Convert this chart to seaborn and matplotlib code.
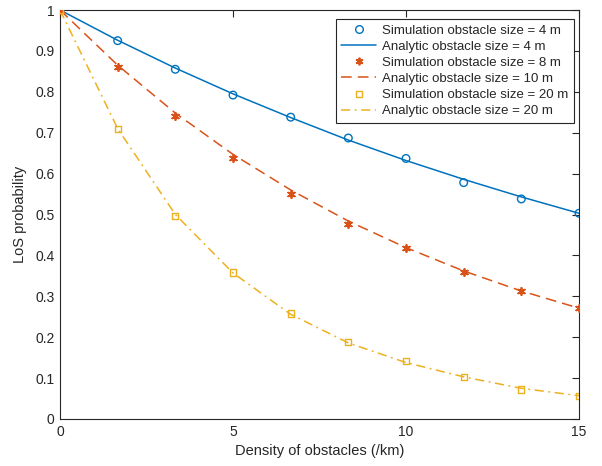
import numpy as np
import pandas as pd
import matplotlib
matplotlib.use("Agg")
import matplotlib.pyplot as plt
from matplotlib.lines import Line2D
import seaborn as sns

# density of obstacles (/km)
density = [0, 1.667, 3.333, 5, 6.667, 8.333, 10, 11.667, 13.333, 15]

sim_4m = [1, 0.925, 0.855, 0.792, 0.738, 0.687, 0.637, 0.578, 0.538, 0.503]
ana_4m = [1, 0.926, 0.858, 0.795, 0.737, 0.682, 0.632, 0.586, 0.543, 0.503]
sim_8m = [1, 0.860, 0.741, 0.637, 0.550, 0.477, 0.417, 0.359, 0.312, 0.272]
ana_10m = [1, 0.865, 0.748, 0.647, 0.560, 0.484, 0.419, 0.362, 0.313, 0.271]
sim_20m = [1, 0.709, 0.497, 0.358, 0.258, 0.189, 0.141, 0.103, 0.072, 0.056]
ana_20m = [1, 0.710, 0.500, 0.357, 0.256, 0.186, 0.138, 0.103, 0.075, 0.057]

labels = [
    "Simulation obstacle size = 4 m",
    "Analytic obstacle size = 4 m",
    "Simulation obstacle size = 8 m",
    "Analytic obstacle size = 10 m",
    "Simulation obstacle size = 20 m",
    "Analytic obstacle size = 20 m",
]

blue = "#0072BD"
red = "#D95319"
yellow = "#EDB120"
dark = "#262626"

sns.set_style("white")
plt.rcParams["font.family"] = ["Liberation Sans", "DejaVu Sans"]
plt.rcParams["font.size"] = 9.5
plt.rcParams["text.color"] = dark
plt.rcParams["axes.labelcolor"] = dark
plt.rcParams["xtick.color"] = dark
plt.rcParams["ytick.color"] = dark

fig = plt.figure(figsize=(6.02, 4.66), dpi=100)
ax = fig.add_axes([60 / 602, 1 - 419 / 466, 519 / 602, 409 / 466])

df = pd.DataFrame({
    "density": density,
    "sim_4m": sim_4m, "ana_4m": ana_4m,
    "sim_8m": sim_8m, "ana_10m": ana_10m,
    "sim_20m": sim_20m, "ana_20m": ana_20m,
})

# blue
sns.lineplot(data=df, x="density", y="ana_4m", ax=ax, color=blue, lw=1.1, zorder=2)
sns.scatterplot(data=df, x="density", y="sim_4m", ax=ax, marker="o", s=30,
                facecolor="none", edgecolor=blue, linewidth=1.0, zorder=3)
# red
sns.lineplot(data=df, x="density", y="ana_10m", ax=ax, color=red, lw=1.1, zorder=2)
ax.lines[-1].set_dashes((7, 4))
sns.scatterplot(data=df, x="density", y="sim_8m", ax=ax, marker=(6, 2, 0), s=28,
                color=red, edgecolor=red, linewidth=1.3, zorder=3)
# yellow
sns.lineplot(data=df, x="density", y="ana_20m", ax=ax, color=yellow, lw=1.1, zorder=2)
ax.lines[-1].set_dashes((6, 3, 1.2, 3))
sns.scatterplot(data=df, x="density", y="sim_20m", ax=ax, marker="s", s=20,
                facecolor="none", edgecolor=yellow, linewidth=1.0, zorder=3)

# legend handles in the original order
handles = [
    Line2D([], [], ls="none", marker="o", mfc="none", mec=blue, ms=5.5, mew=1.0),
    Line2D([], [], color=blue, lw=1.1),
    Line2D([], [], ls="none", marker=(6, 2, 0), color=red, mec=red, ms=5.5, mew=1.3),
    Line2D([], [], color=red, lw=1.1, dashes=(7, 4)),
    Line2D([], [], ls="none", marker="s", mfc="none", mec=yellow, ms=4.5, mew=1.0),
    Line2D([], [], color=yellow, lw=1.1, dashes=(6, 3, 1.2, 3)),
]
leg = ax.legend(handles, labels, loc="upper right", bbox_to_anchor=(0.99, 0.978),
                frameon=True, fancybox=False, framealpha=1, edgecolor=dark,
                fontsize=9.5, handlelength=2.6, handletextpad=0.5,
                borderpad=0.4, labelspacing=0.3, borderaxespad=0)
leg.get_frame().set_linewidth(0.8)

ax.set_xlim(0, 15)
ax.set_ylim(0, 1)
ax.set_xticks([0, 5, 10, 15])
ax.set_xticklabels(["0", "5", "10", "15"])
yt = [0, 0.1, 0.2, 0.3, 0.4, 0.5, 0.6, 0.7, 0.8, 0.9, 1]
ax.set_yticks(yt)
ax.set_yticklabels(["0", "0.1", "0.2", "0.3", "0.4", "0.5", "0.6", "0.7", "0.8", "0.9", "1"])
ax.tick_params(direction="in", length=5, width=0.8, top=True, right=True,
               labelsize=10, pad=4)
for sp in ax.spines.values():
    sp.set_visible(True)
    sp.set_color(dark)
    sp.set_linewidth(0.8)

ax.set_xlabel("Density of obstacles (/km)", fontsize=10.5, labelpad=4)
ax.set_ylabel("LoS probability", fontsize=10.5, labelpad=6)

fig.savefig("out.png", dpi=100)
